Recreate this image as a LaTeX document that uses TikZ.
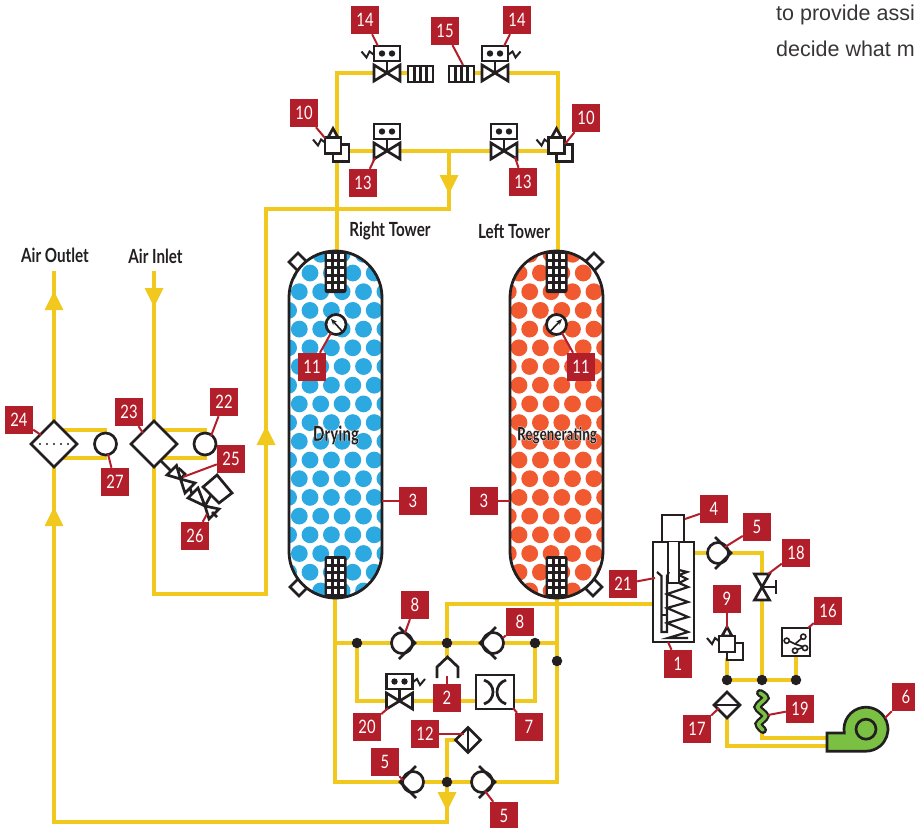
\documentclass[tikz,border=0pt]{standalone}
\usepackage{fontspec}
\usetikzlibrary{positioning, arrows.meta, calc}
\newfontfamily\tagfont[FakeStretch=0.8]{Lato}
\newfontfamily\headfont[FakeStretch=0.78]{Lato Bold}
\newfontfamily\blackfont[FakeStretch=0.72]{Lato Black}
\newfontfamily\bodyfont{Liberation Sans}
\newcommand{\halotext}[1]{\special{pdf:code q 2 Tr 0.3 w 1 1 1 RG}#1\special{pdf:code Q}}
\definecolor{pipeyellow}{HTML}{F0C81E}
\definecolor{tagred}{HTML}{B31E2B}
\definecolor{inkblack}{HTML}{231F20}
\definecolor{dryblue}{HTML}{2CA9E1}
\definecolor{regenorange}{HTML}{F15A31}
\definecolor{blowergreen}{HTML}{7AC143}
\tikzset{
    pipe/.style={draw=pipeyellow, line width=4.6pt, line join=miter},
    sym/.style={draw=inkblack, line width=2.7pt, line join=miter},
    tag/.style={fill=tagred, text=white, minimum size=28pt, inner sep=0, font=\tagfont\fontsize{18.5}{18.5}\selectfont},
    leader/.style={draw=tagred, line width=2pt},
    head/.style={text=inkblack, inner sep=0, font=\headfont\fontsize{19.5}{19.5}\selectfont},
    junction/.style={circle, fill=inkblack, minimum size=10.5pt, inner sep=0},
    pics/yarrow/.style={code={\fill[pipeyellow] (-9.5,0) -- (9.5,0) -- (0,19) -- cycle;}},
    pics/zig/.style={code={\draw[sym, line width=2pt] (0,0) -- (-4,-3) -- (-7,3) -- (-12,-3);}},
    pics/solvalve/.style={code={
        \draw[sym] (0,0) -- (0,-12);
        \draw[sym, fill=white] (-13,-8) -- (13,8) -- (13,-8) -- (-13,8) -- cycle;
        \draw[sym, fill=white] (-13,-27) rectangle (13,-12);
        \fill[inkblack] (-5,-19.5) circle (3.2) (5,-19.5) circle (3.2);
    }},
    pics/checkvalve/.style={code={
        \draw[sym, fill=white] (0,0) circle (10.5);
        \draw[sym] (-3,-16) -- (13,0) -- (-3,16);
    }},
    pics/reliefvalve/.style={code={
        \draw[sym, fill=white] (0,-1) rectangle (16,16);
        \draw[sym, fill=white] (-5,-8) -- (0,-17) -- (5,-8) -- cycle;
        \draw[sym, fill=white] (-8,-8) rectangle (8,8);
        \pic at (-8,-3) {zig};
    }},
    pics/screen/.style={code={
        \draw[sym, fill=white] (0,-8) rectangle (25,8);
        \foreach \px in {6.25, 12.5, 18.75} {\draw[sym] (\px,-8) -- (\px,8);}
    }},
    pics/mesh/.style={code={
        \fill[inkblack, rounded corners=2.5pt] (-11,-21) rectangle (11,21);
        \foreach \px in {-6.5, 0, 6.5} {
            \foreach \py in {-15.5, -8, -0.5, 7, 14.5} {
                \fill[white] (\px-1.9,\py-2.4) rectangle (\px+1.9,\py+2.4);
            }
        }
    }},
    pics/port/.style={code={\draw[sym, fill=white] (-9,0) -- (0,-9) -- (9,0) -- (0,9) -- cycle;}},
}

\begin{document}
\begin{tikzpicture}[x=1pt, y=-1pt]
    \clip (0,0) rectangle (915,827);

    \node[anchor=base west, inner sep=0, text=inkblack!90, font=\bodyfont\fontsize{21.5}{21.5}\selectfont] (bodyA) at (776,20.5) {to provide assi};
    \node[anchor=base west, inner sep=0, text=inkblack!90, font=\bodyfont\fontsize{21.5}{21.5}\selectfont] (bodyB) at (776,56) {decide what m};

    \coordinate (topL) at (337,73);
    \coordinate (topR) at (558,73);
    \coordinate (screenL) at (408,73);
    \coordinate (screenR) at (474,73);
    \coordinate (midL) at (337,151);
    \coordinate (midR) at (558,151);
    \coordinate (midC) at (449,151);
    \coordinate (teeC) at (449,209);
    \coordinate (riserT) at (266,209);
    \coordinate (riserB) at (266,594);
    \coordinate (inletB) at (154,594);
    \coordinate (inletT) at (154,271);
    \coordinate (outletT) at (54,271);
    \coordinate (outletB) at (54,822);
    \coordinate (returnB) at (447,822);
    \coordinate (rightTopIn) at (337,252);
    \coordinate (leftTopIn) at (558,252);
    \coordinate (rightBotIn) at (335,596);
    \coordinate (leftBotIn) at (557,596);
    \coordinate (botL) at (335,782);
    \coordinate (botR) at (557,782);
    \coordinate (crossL) at (335,643);
    \coordinate (crossR) at (557,643);
    \coordinate (purgeT) at (447,604);
    \coordinate (purgeR) at (653,604);
    \coordinate (shapeIn) at (447,660);
    \coordinate (bypassL) at (357,701);
    \coordinate (bypassR) at (535,701);
    \coordinate (sepIn) at (447,740);
    \coordinate (sepPort) at (468,740);
    \coordinate (jnAp) at (357,643);
    \coordinate (jnBp) at (447,643);
    \coordinate (jnCp) at (535,643);
    \coordinate (jnEp) at (447,782);
    \coordinate (jnFp) at (727,680);
    \coordinate (jnGp) at (762,680);
    \coordinate (jnHp) at (796,680);

    \draw[pipe] (rightTopIn) -- (topL) -- (screenL);
    \draw[pipe] (screenR) -- (topR) -- (leftTopIn);
    \draw[pipe] (midL) -- (midR);
    \draw[pipe] (midC) -- (teeC) -- (riserT) -- (riserB) -- (inletB) -- (inletT);
    \draw[pipe] (outletT) -- (outletB) -- (returnB) -- (jnEp);
    \draw[pipe] (rightBotIn) -- (botL) -- (botR) -- (leftBotIn);
    \draw[pipe] (crossL) -- (crossR);
    \draw[pipe] (jnBp) -- (purgeT) -- (purgeR);
    \draw[pipe] (jnBp) -- (shapeIn);
    \draw[pipe] (jnAp) -- (bypassL) -- (bypassR) -- (jnCp);
    \draw[pipe] (jnEp) -- (sepIn) -- (sepPort);

    \coordinate (dryA) at (54,430);
    \coordinate (dryB) at (107,430);
    \coordinate (dryC) at (54,458);
    \coordinate (dryD) at (107,458);
    \coordinate (preA) at (154,430);
    \coordinate (preB) at (207,430);
    \coordinate (preC) at (154,458);
    \coordinate (preD) at (207,458);
    \draw[pipe] (dryA) -- (dryB);
    \draw[pipe] (dryC) -- (dryD);
    \draw[pipe] (preA) -- (preB);
    \draw[pipe] (preC) -- (preD);

    \coordinate (heaterOut) at (694,553);
    \coordinate (heaterC) at (762,553);
    \coordinate (drainOut) at (727,658);
    \coordinate (gaugeIn) at (796,656);
    \coordinate (coolerOut) at (727,718);
    \coordinate (coolerB) at (727,746);
    \coordinate (blowerA) at (827,746);
    \coordinate (hoseOut) at (762,730);
    \coordinate (hoseB) at (762,738);
    \coordinate (blowerB) at (827,738);
    \draw[pipe] (heaterOut) -- (heaterC) -- (jnGp);
    \draw[pipe] (drainOut) -- (jnFp) -- (jnHp) -- (gaugeIn);
    \draw[pipe] (coolerOut) -- (coolerB) -- (blowerA);
    \draw[pipe] (hoseOut) -- (hoseB) -- (blowerB);

    \node[junction] (jnA) at (jnAp) {};
    \node[junction] (jnB) at (jnBp) {};
    \node[junction] (jnC) at (jnCp) {};
    \node[junction] (jnD) at (557,661) {};
    \node[junction] (jnE) at (jnEp) {};
    \node[junction] (jnF) at (jnFp) {};
    \node[junction] (jnG) at (jnGp) {};
    \node[junction] (jnH) at (jnHp) {};

    \pic at (449,175) {yarrow};
    \pic at (447,792) {yarrow};
    \pic at (154,288) {yarrow};
    \pic[rotate=180] at (54,310) {yarrow};
    \pic[rotate=180] at (54,526) {yarrow};
    \pic[rotate=180] at (266,445) {yarrow};

    \pic at (298,262) {port};
    \pic at (594,262) {port};
    \pic at (299,587) {port};
    \pic at (593,587) {port};

    \begin{scope}
        \clip[rounded corners=46.5pt] (289,251) rectangle (382,598);
        \fill[white] (289,251) rectangle (382,598);
        \foreach \row in {-1,...,17} {
            \pgfmathsetmacro{\rowy}{273+18.7*\row}
            \pgfmathsetmacro{\rowshift}{mod(\row+20,2)*(-10.7)}
            \foreach \col in {-1,...,4} {
                \fill[dryblue] ({310+\rowshift+21.4*\col},\rowy) circle (8.4);
            }
        }
    \end{scope}
    \begin{scope}
        \clip[rounded corners=46.5pt] (510,251) rectangle (603,598);
        \fill[white] (510,251) rectangle (603,598);
        \foreach \row in {-1,...,17} {
            \pgfmathsetmacro{\rowy}{273+18.7*\row}
            \pgfmathsetmacro{\rowshift}{mod(\row+20,2)*(10.7)}
            \foreach \col in {-1,...,5} {
                \fill[regenorange] ({519+\rowshift+21.4*\col},\rowy) circle (8.4);
            }
        }
    \end{scope}
    \pic at (335.5,272) {mesh};
    \pic at (556.5,272) {mesh};
    \pic at (335.5,577) {mesh};
    \pic at (556.5,577) {mesh};
    \draw[sym, line width=2.8pt, rounded corners=46.5pt] (289,251) rectangle (382,598);
    \draw[sym, line width=2.8pt, rounded corners=46.5pt] (510,251) rectangle (603,598);

    \draw[sym, fill=white] (336,324.5) circle (10);
    \draw[sym, line width=1.6pt, -{Stealth[length=6pt,width=5pt]}] (342,331) -- (331,319);
    \draw[sym, fill=white] (556.5,324.5) circle (10);
    \draw[sym, line width=1.6pt, -{Stealth[length=6pt,width=5pt]}] (550.5,331) -- (562,319);

    \node[head] (rightName) at (390,231) {Right Tower};
    \node[head] (leftName) at (514,231) {Left Tower};
    \node[head] (outletName) at (55,255) {Air Outlet};
    \node[head] (inletName) at (155.5,256) {Air Inlet};
    \node[head, font=\blackfont\fontsize{21}{21}\selectfont] (drying) at (336,435) {\halotext{Drying}};
    \node[head, font=\blackfont\fontsize{18.5}{18.5}\selectfont] (regen) at (557,435) {\halotext{Regenerating}};

    \pic at (387,73) {solvalve};
    \pic at (373.5,54.5) {zig};
    \pic[xscale=-1] at (495,73) {solvalve};
    \pic[xscale=-1] at (508.5,54.5) {zig};
    \pic at (408,74) {screen};
    \pic at (449,74) {screen};
    \pic at (387,151) {solvalve};
    \pic at (504,151) {solvalve};
    \pic at (333,145.5) {reliefvalve};
    \pic at (556.5,145.5) {reliefvalve};
    \pic at (727,644) {reliefvalve};

    \pic at (402,643) {checkvalve};
    \pic[xscale=-1] at (493,643) {checkvalve};
    \pic[xscale=-1] at (413,782) {checkvalve};
    \pic at (482,782) {checkvalve};
    \pic at (718,553) {checkvalve};

    \pic at (399.5,701) {solvalve};
    \pic[xscale=-1] at (413,682) {zig};

    \draw[sym] (437,678) -- (437,667) -- (447.5,657) -- (458,667) -- (458,678);
    \draw[sym, fill=white] (476,675) rectangle (514,709);
    \draw[sym] (484,680) .. controls (496,684) and (496,700) .. (484,704);
    \draw[sym] (506,680) .. controls (494,684) and (494,700) .. (506,704);

    \draw[sym, fill=white] (468,727.5) -- (480.5,740) -- (468,752.5) -- (455.5,740) -- cycle;
    \draw[sym] (468,727.5) -- (468,752.5);
    \draw[sym, fill=white] (727,692) -- (740,705) -- (727,718) -- (714,705) -- cycle;
    \draw[sym] (714,705) -- (740,705);

    \draw[sym, fill=white] (54,421) -- (77,444) -- (54,467) -- (31,444) -- cycle;
    \foreach \dotx in {-14,-7,0,7,14} {\fill[inkblack] (54+\dotx,444) circle (1.1);}
    \draw[sym, fill=white] (105.5,444) circle (11);
    \draw[sym, fill=white] (154,421) -- (177,444) -- (154,467) -- (131,444) -- cycle;
    \draw[sym, fill=white] (205,444) circle (11);

    \draw[sym] (161,461) -- (172,472);
    \draw[sym, fill=white] (180.5,479) -- (167,475) -- (176.5,465.5) -- cycle;
    \draw[sym, fill=white] (180.5,479) -- (185,493) -- (195,483) -- cycle;
    \draw[sym] (180.5,479) -- (185,474);
    \draw[sym] (178.5,468) -- (186,475);
    \draw[sym] (190,488) -- (192,494);
    \draw[sym, fill=white] (205,506) -- (188,498) -- (198,488) -- cycle;
    \draw[sym, fill=white] (205,506) -- (209,519) -- (219,509) -- cycle;
    \draw[sym] (205,506) -- (211,495);
    \draw[sym, fill=white] (217,475) -- (232,493) -- (219,503) -- (203,487) -- cycle;
    \draw[sym] (212,512) -- (217,517);

    \draw[sym, fill=white] (662,515) rectangle (684,542);
    \draw[sym, fill=white] (653,542) rectangle (694,642);
    \draw[sym, line width=2.2pt] (679,570) -- (687,572) -- (679,575) -- (687,579) -- (679,583);
    \draw[sym, line width=2.2pt] (679,583) -- (688,587) -- (667,594) -- (688,602) -- (667,608) -- (688,617) -- (667,623) -- (688,632) -- (668,638) -- (688,638);
    \draw[sym, line width=2.2pt, fill=white] (668,542) -- (668,583) -- (679,583) -- (679,542);
    \draw[sym, line width=2.2pt] (657,572) -- (661.5,576) -- (661.5,632) -- (667,632) -- (667,576) -- (669,572);
    \draw[sym, line width=2.2pt] (661.5,615) -- (667,615);

    \draw[sym, fill=white] (754.5,574) -- (769.5,574) -- (754.5,600) -- (769.5,600) -- cycle;
    \draw[sym] (762,587) -- (776,587);
    \draw[sym] (776,580) -- (776,594);

    \draw[sym, fill=white] (782,628) rectangle (810,656);
    \draw[sym, line width=1.6pt] (789,641) -- (795,644) -- (802,638) (795,644) -- (804,647) -- (796,650);
    \foreach \cx/\cy in {786.7/640.7, 803.3/636.7, 805/648, 795/650.7} {
        \draw[sym, line width=1.6pt, fill=white] (\cx,\cy) circle (2.6);
    }

    \draw[inkblack, line width=8pt, line cap=round] plot[smooth] coordinates {(760,693) (765.5,698) (757.5,707) (765.5,716) (758.5,724) (763,730)};
    \draw[blowergreen, line width=3.5pt, line cap=round] plot[smooth] coordinates {(760,693) (765.5,698) (757.5,707) (765.5,716) (758.5,724) (763,730)};

    \draw[sym, fill=blowergreen] (827,733) -- (844.3,733) arc[start angle=170, end angle=450, radius=22] -- (827,751.2) -- cycle;
    \draw[sym] (866,729.2) circle (10);

    \node[tag] (tagA) at (365,20) {14};
    \node[tag] (tagB) at (445,31) {15};
    \node[tag] (tagC) at (517,20) {14};
    \node[tag] (tagD) at (304,113) {10};
    \node[tag] (tagE) at (586,118) {10};
    \node[tag] (tagF) at (363,183) {13};
    \node[tag] (tagG) at (523,182) {13};
    \node[tag] (tagH) at (312,367) {11};
    \node[tag] (tagI) at (581,367) {11};
    \node[tag] (tagJ) at (413,501) {3};
    \node[tag] (tagK) at (484,501) {3};
    \node[tag] (tagL) at (714,509) {4};
    \node[tag] (tagM) at (757,527) {5};
    \node[tag] (tagN) at (796,553) {18};
    \node[tag] (tagO) at (623,584) {21};
    \node[tag] (tagP) at (727,599) {9};
    \node[tag] (tagQ) at (828,611) {16};
    \node[tag] (tagR) at (678,664) {1};
    \node[tag] (tagS) at (800,709) {19};
    \node[tag] (tagT) at (697,729) {17};
    \node[tag] (tagU) at (906,697) {6};
    \node[tag] (tagV) at (415,605) {8};
    \node[tag] (tagW) at (520,622) {8};
    \node[tag] (tagX) at (447,698) {2};
    \node[tag] (tagY) at (529,727) {7};
    \node[tag] (tagZ) at (367,727) {20};
    \node[tag] (tagAA) at (425,734) {12};
    \node[tag] (tagAB) at (385,762) {5};
    \node[tag] (tagAC) at (504,816) {5};
    \node[tag] (tagAD) at (19,420) {24};
    \node[tag] (tagAE) at (129,412) {23};
    \node[tag] (tagAF) at (224,402) {22};
    \node[tag] (tagAG) at (231,459) {25};
    \node[tag] (tagAH) at (115,482) {27};
    \node[tag] (tagAI) at (195,536) {26};

    \foreach \from/\px/\py in {tagA/378/46, tagB/463/65, tagC/504/46, tagD/325/138, tagE/565/144, tagF/375/158, tagG/515/157,
        tagH/331/333, tagI/562/333, tagJ/382/501, tagK/510/501, tagL/685/519, tagM/725/547, tagN/768/574, tagO/655/578,
        tagP/727/628, tagQ/808/628, tagR/668/642, tagS/768/715, tagT/719/708, tagU/885/718, tagV/405/633, tagW/503/638,
        tagX/447/676, tagY/513/708, tagZ/388/708, tagAA/464/734, tagAB/403/780, tagAC/485/791, tagAD/41/435, tagAE/143/433,
        tagAF/211/436, tagAG/183/477, tagAH/108/454, tagAI/207/514} {
        \coordinate (end\from) at (\px,\py);
        \draw[leader] (\from) -- (end\from);
    }
\end{tikzpicture}
\end{document}
